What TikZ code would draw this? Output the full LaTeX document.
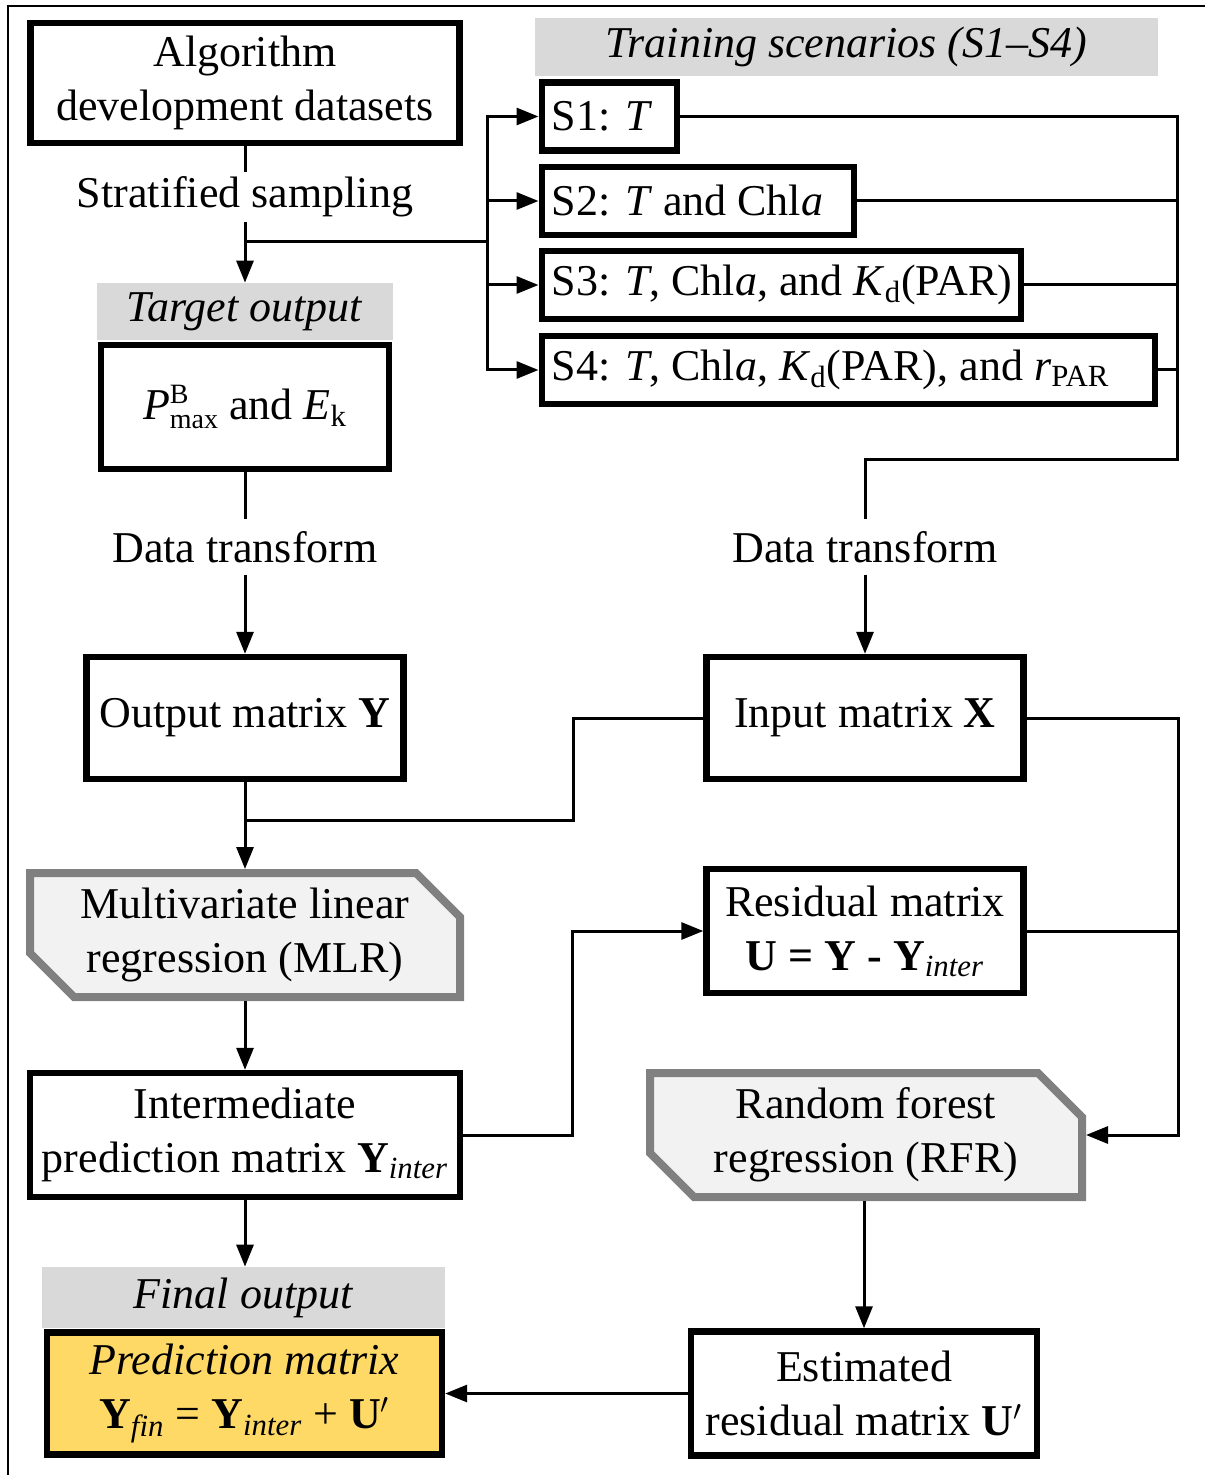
\documentclass[tikz,border=0pt]{standalone}
\usepackage{fontspec}
\setmainfont{Liberation Serif}
\usetikzlibrary{arrows.meta,calc}
\definecolor{barGray}{HTML}{D9D9D9}
\definecolor{shapeFill}{HTML}{F2F2F2}
\definecolor{shapeLine}{HTML}{808080}
\definecolor{predYellow}{HTML}{FFD966}
\newcommand{\sbs}[1]{\textsubscript{#1}}
\newcommand{\supsub}[2]{\rlap{\raisebox{8pt}{\fontsize{14}{14}\selectfont #1}}\raisebox{-4.5pt}{\fontsize{14}{14}\selectfont #2}}
\begin{document}
\begin{tikzpicture}[x=0.5pt,y=-0.5pt,
  every node/.style={font=\fontsize{22}{27}\selectfont, align=center, inner sep=0pt},
  box/.style={draw=black, line width=3.2pt, fill=white},
  sbox/.style={draw=black, line width=3.2pt, fill=white, inner xsep=5pt, minimum height=34pt, anchor=west},
  bar/.style={fill=barGray},
  gshape/.style={draw=shapeLine, fill=shapeFill, line width=4pt, line join=miter},
  gnode/.style={outer sep=2pt},
  conn/.style={line width=1.5pt},
  arr/.style={line width=1.5pt, -{Triangle[length=11pt,width=8.5pt]}},
  frame/.style={line width=1.3pt}
]
\useasboundingbox (0,0) rectangle (1205,1475);
\draw[frame] (8,1475) -- (8,6) -- (1205,6);

% top-left
\node[box, minimum width=214.5pt, minimum height=60pt] (alg) at (245,83) {Algorithm\\development datasets};
\node[minimum height=25pt] (strat) at (245,197) {Stratified sampling};
\node[bar, minimum width=148pt, minimum height=28.5pt] (tbar) at (245,311.5) {\textit{Target output}};
\node[box, minimum width=144pt, minimum height=62pt] (pmax) at (245,407)
  {\textit{P}\supsub{B}{max} and \textit{E}\sbs{k}};

% scenarios
\node[bar, minimum width=311.5pt, minimum height=29pt] (trbar) at (846.5,47) {\textit{Training scenarios (S1–S4)}};
\node[sbox] (S1) at (538.5,116.5) {\makebox[57.5pt][l]{S1: \textit{T}}};
\node[sbox] (S2) at (538.5,201) {\makebox[146pt][l]{S2: \textit{T} and Chl\textit{a}}};
\node[sbox] (S3) at (538.5,285) {\makebox[229.5pt][l]{S3: \textit{T}, Chl\textit{a}, and \textit{K}\sbs{d}(PAR)}};
\node[sbox] (S4) at (538.5,370) {\makebox[296.5pt][l]{S4: \textit{T}, Chl\textit{a}, \textit{K}\sbs{d}(PAR), and \textit{r}\sbs{PAR}}};

% transforms
\node[minimum height=27.5pt] (dt1) at (245,547) {Data transform};
\node[minimum height=27.5pt] (dt2) at (865,547) {Data transform};

\node[box, minimum width=158.5pt, minimum height=61pt] (outY) at (245,718) {Output matrix \textbf{Y}};
\node[box, minimum width=158.5pt, minimum height=61pt] (inX) at (865,718) {Input matrix \textbf{X}};

% MLR shape
\draw[gshape] (30,873) -- (416,873) -- (460,917) -- (460,997) -- (74,997) -- (30,953) -- cycle;
\node[gnode, minimum width=215pt, minimum height=62pt] (mlr) at (245,935) {Multivariate linear\\regression (MLR)};

\node[box, minimum width=158.5pt, minimum height=62pt] (resid) at (865,931)
  {Residual matrix\\\textbf{U = Y - Y}\sbs{\textit{inter}}};

\node[box, minimum width=215pt, minimum height=62pt] (inter) at (245,1135)
  {Intermediate\\prediction matrix \textbf{Y}\sbs{\textit{inter}}};

% RFR shape
\draw[gshape] (650,1073) -- (1038,1073) -- (1082,1117) -- (1082,1197) -- (694,1197) -- (650,1153) -- cycle;
\node[gnode, minimum width=216pt, minimum height=62pt] (rfr) at (866,1135) {Random forest\\regression (RFR)};

\node[bar, minimum width=201.5pt, minimum height=30.5pt] (fbar) at (243.5,1297.5) {\textit{Final output}};
\node[box, fill=predYellow, minimum width=197.5pt, minimum height=61pt] (pred) at (244.5,1393.5)
  {\textit{Prediction matrix}\\\textbf{Y}\sbs{\textit{fin}} = \textbf{Y}\sbs{\textit{inter}} + \textbf{U}$'$};
\node[box, minimum width=173pt, minimum height=62pt] (est) at (864,1393.5)
  {Estimated\\residual matrix \textbf{U}$'$};

% coordinates
\coordinate (split) at (245,242);
\coordinate (bus) at (487,242);
\coordinate (rb) at (1177,460);
\coordinate (jx) at (573,820);
\coordinate (j1) at (245,820);
\coordinate (rx) at (1178,1135);
\coordinate (ir) at (572,1135);

% connectors
\draw[conn] (alg.south) -- (strat.north);
\draw[arr] (strat.south) -- (tbar.north);
\draw[conn] (split) -- (bus);
\draw[arr] (bus) |- (S1.west);
\draw[arr] (bus) |- (S2.west);
\draw[arr] (bus) |- (S3.west);
\draw[arr] (bus) |- (S4.west);

\draw[conn] (S1.east) -| (rb) -| (dt2.north);
\draw[conn] (S2.east) -- (S2.east -| rb);
\draw[conn] (S3.east) -- (S3.east -| rb);
\draw[conn] (S4.east) -- (S4.east -| rb);
\draw[arr] (dt2.south) -- (inX.north);

\draw[conn] (pmax.south) -- (dt1.north);
\draw[arr] (dt1.south) -- (outY.north);

\draw[arr] (outY.south) -- (mlr.north);
\draw[conn] (inX.west) -| (jx) -- (j1);
\draw[arr] (inX.east) -| (rx) -- (rfr.east);
\draw[conn] (resid.east) -- (resid.east -| rx);

\draw[arr] (mlr.south) -- (inter.north);
\draw[arr] (inter.east) -- (ir) |- (resid.west);
\draw[arr] (inter.south) -- (inter.south |- fbar.north);
\draw[arr] (rfr.south -| est.north) -- (est.north);
\draw[arr] (est.west) -- (est.west -| pred.east);
\end{tikzpicture}
\end{document}
